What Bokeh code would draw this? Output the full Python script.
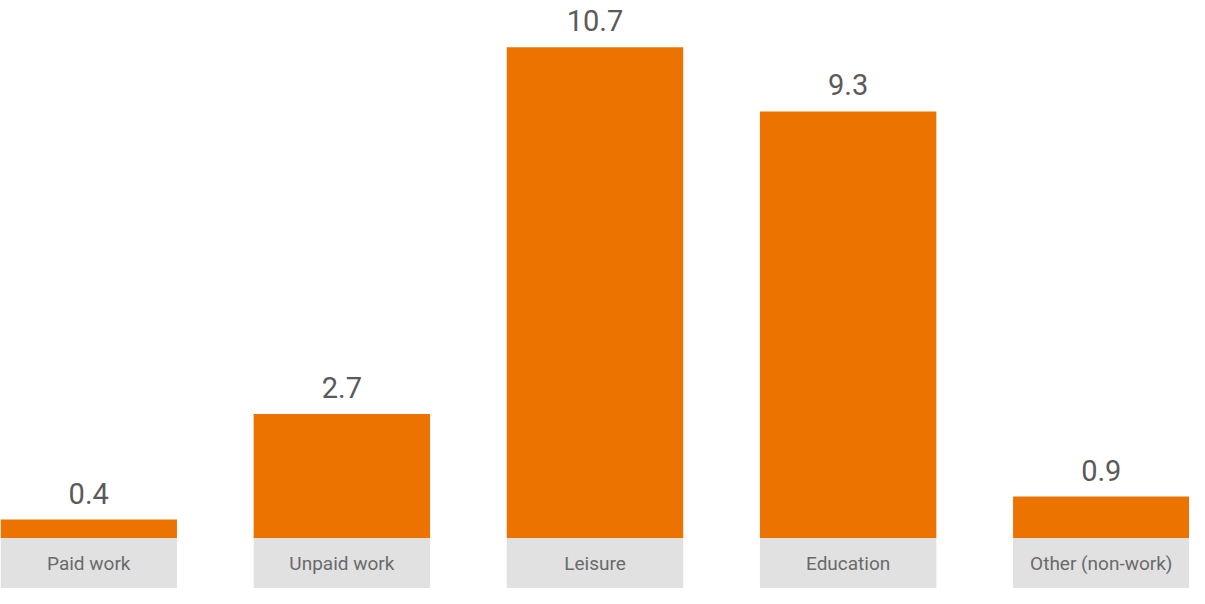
from bokeh.plotting import figure
from bokeh.models import ColumnDataSource, Range1d
from bokeh.core.properties import value
from bokeh.embed import file_html
from bokeh.resources import INLINE

categories = ["Paid work", "Unpaid work", "Leisure", "Education", "Other (non-work)"]
values = [0.4, 2.7, 10.7, 9.3, 0.9]
value_labels = ["0.4", "2.7", "10.7", "9.3", "0.9"]

W, H = 1189, 588
bar_w = 0.697
box_bottom = -1.104

xs = list(range(len(categories)))
src = ColumnDataSource(dict(x=xs, top=values, cat=categories, lab=value_labels,
                            mid=[box_bottom / 2] * len(xs)))

p = figure(width=W, height=H, output_backend="svg", toolbar_location=None,
           x_range=Range1d(-bar_w / 2, len(xs) - 1 + bar_w / 2),
           y_range=Range1d(box_bottom, 11.72),
           min_border=0, min_border_left=0, min_border_right=0,
           min_border_top=0, min_border_bottom=0)
p.xaxis.visible = False
p.yaxis.visible = False
p.grid.visible = False
p.outline_line_color = None
p.background_fill_color = "white"

p.vbar(x="x", width=bar_w, bottom=box_bottom, top=0, source=src,
       fill_color="#e1e1e1", line_color=None)
p.vbar(x="x", width=bar_w, bottom=0, top="top", source=src,
       fill_color="#ec7300", line_color=None)

p.text(x="x", y="top", text="lab", source=src, text_align="center",
       text_baseline="bottom", y_offset=-16, text_font=value("Roboto"),
       text_font_size="29px", text_color="#5a5a5a")
p.text(x="x", y="mid", text="cat", source=src, text_align="center",
       text_baseline="middle", text_font=value("Roboto"),
       text_font_size="19px", text_color="#6a6a6a")

open("out.html", "w").write(file_html(p, INLINE))
